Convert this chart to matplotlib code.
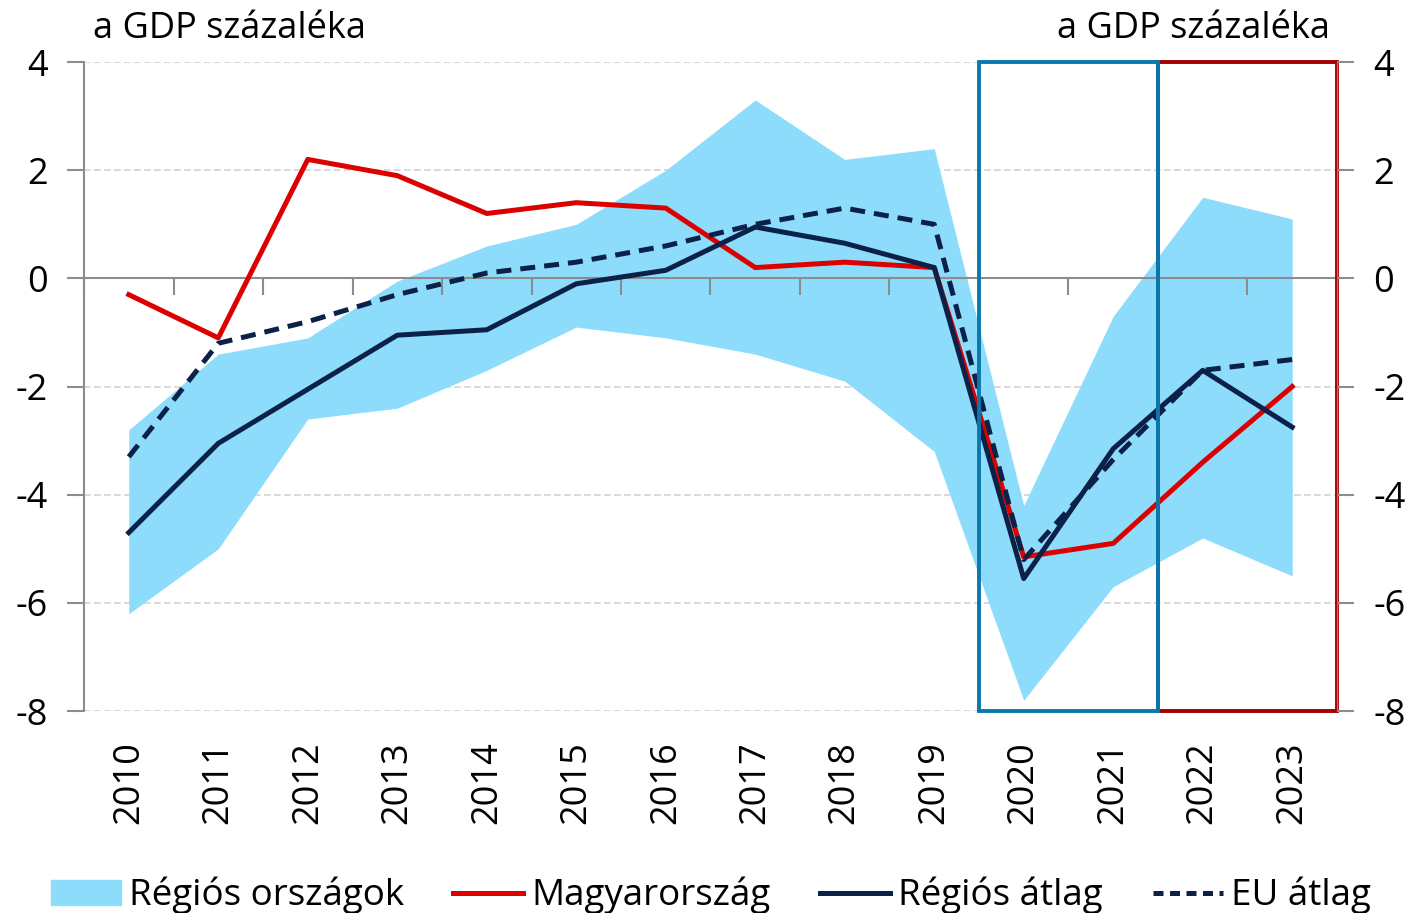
import matplotlib
matplotlib.use("Agg")
from matplotlib import pyplot as plt
from matplotlib.patches import Rectangle, Patch
from matplotlib.lines import Line2D

plt.rcParams['font.family'] = ['Open Sans', 'DejaVu Sans']

# data (% of GDP)
years = ['2010', '2011', '2012', '2013', '2014', '2015', '2016',
         '2017', '2018', '2019', '2020', '2021', '2022', '2023']
hungary = [-0.3, -1.1, 2.2, 1.9, 1.2, 1.4, 1.3, 0.2, 0.3, 0.2, -5.15, -4.9, -3.4, -2.0]
region_avg = [-4.7, -3.05, -2.05, -1.05, -0.95, -0.1, 0.15, 0.95, 0.65, 0.2, -5.55, -3.15, -1.7, -2.75]
eu_avg = [-3.3, -1.2, -0.8, -0.3, 0.1, 0.3, 0.6, 1.0, 1.3, 1.0, -5.2, -3.35, -1.7, -1.5]
band_high = [-2.8, -1.4, -1.1, -0.05, 0.6, 1.0, 2.0, 3.3, 2.2, 2.4, -4.2, -0.7, 1.5, 1.1]
band_low = [-6.2, -5.0, -2.6, -2.4, -1.7, -0.9, -1.1, -1.4, -1.9, -3.2, -7.8, -5.7, -4.8, -5.5]
yticks = [4, 2, 0, -2, -4, -6, -8]

light_blue = '#8ddcfb'
red = '#dd0000'
navy = '#0c2148'
box_blue = '#0b78ad'
box_red = '#a50000'
grey = '#8c8c8c'
fs = 26

fig = plt.figure(figsize=(14.1, 9.13), dpi=100)
ax = fig.add_axes([0.0596, 0.2212, 0.8886, 0.7108])
x = list(range(len(years)))

ax.fill_between(x, band_low, band_high, color=light_blue, lw=0, zorder=1)
ax.plot(x, hungary, color=red, lw=3.6, zorder=3)
ax.plot(x, region_avg, color=navy, lw=3.6, zorder=4)
ax.plot(x, eu_avg, color=navy, lw=3.6, ls=(0, (3, 1.8)), zorder=5)

# highlight boxes 2020-2021 and 2022-2023
ax.add_patch(Rectangle((11.5, -8), 2, 12, fill=False, ec=box_red, lw=2.8,
                       zorder=6, clip_on=False))
ax.add_patch(Rectangle((9.5, -8), 2, 12, fill=False, ec=box_blue, lw=2.8,
                       zorder=7, clip_on=False))

ax.set_xlim(-0.5, 13.5)
ax.set_ylim(-8, 4)

# grid
for v in yticks:
    if v != 0:
        ax.axhline(v, color='#d3d3d3', lw=1.2, ls=(0, (4, 2)), zorder=0)

# x axis at zero with tick marks between categories
ax.spines['top'].set_visible(False)
ax.spines['right'].set_visible(False)
ax.spines['bottom'].set_position(('data', 0))
ax.spines['bottom'].set_color(grey)
ax.spines['bottom'].set_linewidth(1.5)
ax.spines['left'].set_color(grey)
ax.spines['left'].set_linewidth(1.5)
ax.set_xticks(x)
ax.set_xticklabels([])
ax.tick_params(axis='x', which='major', length=0)
ax.set_xticks([i + 0.5 for i in range(-1, len(years))], minor=True)
ax.tick_params(axis='x', which='minor', length=12, width=1.5, color=grey, direction='out')

# year labels at the bottom
sec = ax.secondary_xaxis('bottom')
sec.set_xticks(x)
sec.set_xticklabels(years, rotation=90, fontsize=fs)
sec.tick_params(length=0, pad=22)
sec.spines['bottom'].set_visible(False)

ax.set_yticks(yticks)
ax.set_yticklabels([str(v) for v in yticks], fontsize=fs)
ax.tick_params(axis='y', length=12, width=1.5, color=grey, pad=14)

ax2 = ax.twinx()
ax2.set_ylim(-8, 4)
ax2.set_yticks(yticks)
ax2.set_yticklabels([str(v) for v in yticks], fontsize=fs)
ax2.tick_params(axis='y', length=12, width=1.5, color=grey, pad=14)
for s in ['top', 'left', 'bottom']:
    ax2.spines[s].set_visible(False)
ax2.spines['right'].set_color(grey)

fig.text(0.066, 0.968, 'a GDP százaléka', fontsize=26, ha='left', va='center')
fig.text(0.943, 0.968, 'a GDP százaléka', fontsize=26, ha='right', va='center')

handles = [Patch(color=light_blue),
           Line2D([], [], color=red, lw=3.6),
           Line2D([], [], color=navy, lw=3.6),
           Line2D([], [], color=navy, lw=3.6, ls=(0, (2, 1.3)))]
labels = ['Régiós országok', 'Magyarország', 'Régiós átlag', 'EU átlag']
fig.legend(handles, labels, loc='center', bbox_to_anchor=(0.504, 0.019), ncol=4,
           frameon=False, fontsize=26.5, handlelength=1.9, handletextpad=0.22,
           columnspacing=1.35, borderpad=0)

fig.savefig('out.png', dpi=100)
